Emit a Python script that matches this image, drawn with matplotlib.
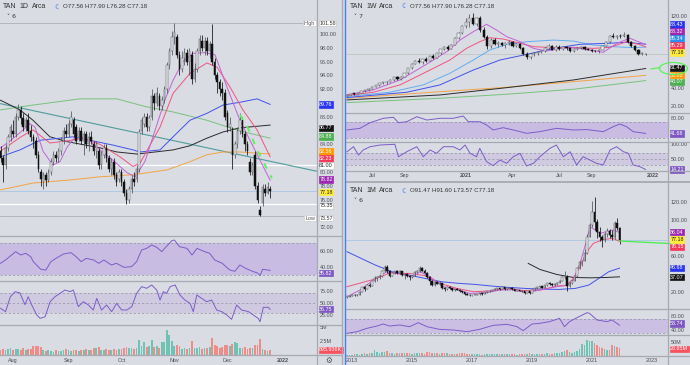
import matplotlib
matplotlib.use("Agg")
import matplotlib.pyplot as plt
from matplotlib.lines import Line2D
from matplotlib.patches import Ellipse
import numpy as np

# ---------------- DAILY (left) ----------------
d_open = [83.0, 82.0, 81.0, 83.5, 85.0, 86.0, 85.5, 88.0, 89.0, 87.8,
          86.5, 87.5, 86.0, 85.0, 84.5, 82.5, 80.0, 78.5, 79.5, 78.8,
          80.0, 81.5, 82.5, 82.0, 83.0, 84.5, 86.0, 85.5, 87.0, 87.5,
          86.5, 85.0, 86.0, 84.5, 85.5, 84.0, 85.0, 84.0, 83.0, 83.0,
          81.0, 82.5, 83.5, 82.0, 80.5, 81.5, 79.5, 79.0, 80.0, 78.5,
          77.0, 76.0, 77.5, 79.0, 79.0, 80.5, 86.0, 87.0, 88.0, 86.5,
          88.0, 91.0, 90.0, 91.0, 89.5, 90.5, 92.0, 95.5, 97.5, 99.5,
          99.5, 97.0, 95.0, 96.5, 97.3, 96.0, 97.0, 93.5, 95.0, 97.5,
          99.0, 98.0, 99.0, 97.5, 98.5, 96.0, 94.0, 93.0, 92.0, 91.5,
          88.5, 86.5, 86.0, 82.5, 84.0, 86.0, 87.5, 85.5, 84.0, 81.5,
          80.0, 82.5, 78.0, 74.5, 75.5, 77.5, 77.0, 77.56]
d_high = [83.8, 82.5, 84.0, 85.5, 87.0, 87.5, 88.5, 89.8, 89.5, 88.5,
          88.0, 88.5, 86.8, 85.5, 85.0, 83.0, 80.5, 80.0, 80.0, 80.5,
          82.0, 83.0, 83.0, 83.5, 85.0, 86.5, 87.0, 87.5, 88.8, 88.0,
          87.0, 86.5, 86.5, 86.0, 86.0, 85.8, 86.0, 84.5, 84.5, 83.5,
          83.0, 84.0, 84.0, 82.5, 82.0, 82.0, 80.0, 80.5, 80.5, 79.0,
          77.5, 78.0, 79.5, 80.0, 81.0, 86.2, 88.0, 88.5, 88.5, 88.3,
          92.0, 91.5, 92.3, 91.5, 91.0, 92.5, 96.0, 98.0, 100.5, 101.58,
          100.0, 97.5, 97.5, 98.0, 97.8, 98.0, 97.5, 95.8, 98.0, 99.8,
          99.8, 99.5, 99.5, 99.0, 101.4, 96.5, 94.5, 93.5, 93.0, 92.0,
          89.0, 88.0, 86.5, 84.5, 86.5, 88.5, 88.0, 86.0, 84.5, 82.0,
          81.5, 83.0, 78.5, 75.0, 78.2, 78.3, 78.5, 77.90]
d_low = [81.5, 78.5, 80.5, 83.0, 84.5, 85.0, 85.0, 87.5, 87.0, 86.0,
         86.0, 85.5, 84.5, 83.5, 82.0, 80.0, 78.0, 77.5, 78.0, 78.5,
         79.5, 81.0, 81.5, 81.5, 82.5, 84.0, 85.0, 85.0, 86.5, 85.0,
         84.0, 84.5, 84.0, 82.5, 83.5, 83.0, 84.0, 82.5, 82.0, 80.5,
         80.5, 82.0, 81.5, 80.0, 79.5, 79.0, 78.0, 78.5, 78.0, 76.5,
         75.3, 75.5, 77.0, 78.0, 78.5, 80.0, 85.5, 86.5, 86.0, 86.0,
         87.5, 89.0, 89.5, 89.0, 89.0, 90.0, 91.5, 95.0, 97.0, 98.5,
         96.5, 94.0, 94.5, 95.5, 95.5, 94.0, 92.8, 93.0, 94.5, 97.0,
         97.5, 97.0, 97.0, 96.5, 95.5, 93.5, 91.5, 91.0, 90.5, 87.5,
         85.8, 86.0, 80.5, 82.0, 83.5, 85.5, 85.0, 83.0, 82.5, 79.5,
         79.5, 77.5, 75.5, 73.57, 75.0, 76.5, 76.8, 76.28]
d_close = [82.0, 81.0, 83.5, 85.0, 86.5, 85.5, 88.0, 89.0, 87.8, 86.5,
           87.5, 86.0, 85.0, 84.5, 82.5, 80.5, 79.0, 79.5, 78.8, 79.8,
           81.5, 82.5, 82.0, 83.0, 84.5, 86.0, 85.5, 87.0, 88.0, 85.5,
           84.5, 86.0, 84.5, 85.5, 84.0, 85.0, 84.5, 83.0, 84.0, 81.0,
           82.5, 83.5, 82.0, 80.5, 81.5, 79.5, 78.5, 80.0, 78.5, 77.0,
           76.0, 77.5, 79.0, 78.5, 80.5, 85.8, 87.5, 88.0, 86.5, 87.8,
           91.0, 90.0, 91.5, 89.5, 90.5, 92.0, 95.5, 97.5, 99.5, 100.3,
           97.0, 95.0, 96.5, 97.3, 96.0, 97.5, 93.5, 95.0, 97.5, 99.3,
           98.0, 99.0, 97.5, 98.5, 96.0, 94.0, 93.0, 92.0, 91.5, 88.0,
           86.5, 87.0, 82.5, 84.0, 86.0, 87.5, 85.5, 84.0, 83.0, 80.0,
           81.0, 78.0, 76.0, 73.8, 77.8, 77.0, 77.8, 77.18]
d_vol = [0.9, 1.1, 0.8, 1.0, 1.2, 0.9, 1.0, 1.1, 0.8, 1.2,
         0.9, 1.0, 1.1, 1.5, 1.6, 1.5, 1.4, 0.8, 0.7, 0.8,
         0.7, 0.6, 0.8, 0.7, 0.7, 0.9, 1.0, 0.8, 0.7, 0.9,
         0.8, 0.7, 0.9, 0.8, 1.1, 0.8, 0.9, 1.3, 1.2, 1.4,
         0.9, 0.8, 1.0, 0.9, 0.8, 1.0, 0.9, 1.1, 1.0, 1.3,
         1.4, 1.2, 1.3, 1.0, 1.2, 2.7, 1.6, 2.3, 1.4, 1.5,
         2.6, 1.4, 1.6, 1.3, 2.2, 2.3, 4.4, 3.6, 2.5, 1.6,
         1.8, 1.5, 1.1, 1.3, 1.0, 1.2, 2.5, 1.2, 1.3, 1.4,
         1.1, 1.3, 1.2, 1.4, 3.0, 1.7, 1.5, 1.2, 1.4, 1.8,
         1.7, 1.6, 1.9, 2.2, 2.1, 1.3, 1.2, 1.4, 1.1, 1.3,
         1.2, 1.8, 1.7, 2.75, 1.0, 0.8, 0.7, 0.896]
d_tick_pos = [5, 27, 48, 69, 90, 112]
d_tick_lab = ["Aug", "Sep", "Oct", "Nov", "Dec", "2022"]

d_purple_x = [0, 3.8, 7.7, 11.7, 13.7, 16.9, 20.8, 23.6, 26.4, 30.4, 35.5, 39.5, 44.6, 50.2,
              53.4, 57.3, 61.3, 65.3, 68.5, 72.4, 76.4, 81.2, 85.1, 89.9, 95.0, 99.0, 103.0, 107.0]
d_purple = [83.5, 84.5, 85.7, 87.0, 86.5, 83.0, 81.0, 81.5, 83.6, 85.4, 84.5, 83.2, 81.7, 79.9,
            79.3, 81.5, 86.0, 90.5, 93.3, 96.0, 97.2, 97.3, 97.0, 92.3, 87.5, 84.6, 81.7, 78.8]
d_pink_x = [0, 7.7, 12.9, 19.6, 26.4, 32.7, 39.5, 47.4, 52.6, 55.4, 63.3, 68.5, 75.2, 81.9,
            85.9, 91.1, 96.2, 101.8, 107]
d_pink = [83.0, 85.0, 86.1, 84.2, 84.5, 84.9, 84.0, 82.2, 80.8, 81.3, 86.5, 91.4, 94.3, 95.8,
          95.2, 92.3, 89.0, 86.1, 82.2]
d_blue_x = [0, 7.7, 15.7, 28.8, 44.6, 52.6, 55.4, 63.3, 68.5, 75.2, 81.9, 88.3, 95.0, 101.8, 107]
d_blue = [82.2, 83.2, 84.6, 85.1, 83.9, 83.2, 82.9, 83.2, 85.1, 87.5, 88.5, 89.7, 90.1, 90.6, 89.8]
d_black_x = [0, 7.7, 12.9, 19.6, 26.4, 39.5, 46.2, 54.2, 68.5, 75.2, 81.9, 88.3, 95.0, 107]
d_black = [90.4, 89.0, 87.5, 85.1, 84.4, 83.5, 82.9, 82.6, 83.2, 83.8, 84.9, 85.8, 86.4, 86.8]
d_green_x = [0, 12.9, 31.5, 46.2, 57.3, 68.5, 81.9, 91.1, 99.0, 107]
d_green = [89.0, 89.7, 90.6, 90.6, 89.5, 88.7, 87.5, 86.4, 85.6, 84.9]
d_orange_x = [0, 12.9, 26.4, 39.5, 52.6, 66.1, 75.2, 81.9, 88.3, 95.0, 107]
d_orange = [77.4, 78.4, 78.8, 79.3, 79.6, 80.3, 81.5, 82.5, 82.9, 82.9, 82.6]
d_trend_x = [0, 125.6]
d_trend = [89.9, 80.1]
d_proj_x = [95.0, 99.0, 101.4, 107.7]
d_proj = [88.3, 85.8, 83.5, 79.1]

d_rsi_x = [0, 2, 6, 8, 10, 12, 13, 16, 18, 20, 22, 25, 28, 30, 32, 34, 37, 39, 41, 44,
           46, 49, 52, 54, 56, 58, 60, 62, 64, 66, 68, 69, 71, 74, 76, 78, 81, 83, 85, 88,
           91, 93, 95, 97, 100, 102, 103, 104, 107]
d_rsi = [44.6, 48.75, 59.2, 55, 57.1, 52.9, 46.7, 37.1, 36.25, 46.7, 50.8, 56.25, 57.9, 52.9,
         46.7, 50.8, 48.75, 44.6, 48.75, 42.5, 44.6, 39.6, 40.4, 46.7, 61.25, 63.3, 67.5, 64.6,
         59.2, 66.25, 72.9, 73.75, 65.4, 63.3, 55, 63.3, 59.2, 57.1, 48.75, 44.6, 36.25, 34.6,
         42.5, 38.75, 34.6, 32.5, 29.2, 37.1, 35.8]
d_sto_x = [0, 2.0, 3.9, 5.8, 7.7, 9.7, 11.0, 12.4, 14.4, 15.7, 17.7, 19.7, 21.6, 23.6, 25.6,
           27.6, 28.9, 30.9, 32.9, 34.9, 36.8, 38.2, 40.1, 42.1, 44.1, 46.1, 48.1, 50.1, 52.1,
           54.0, 56.0, 58.0, 60.0, 62.0, 63.3, 64.6, 65.9, 67.3, 69.3, 71.2, 73.2, 75.2, 76.5,
           77.9, 79.8, 81.8, 83.8, 85.8, 87.8, 89.8, 91.7, 93.7, 95.7, 98.4, 100.3, 102.3,
           103.0, 104.3, 106.3, 107.0]
d_sto = [39, 32, 63, 73.6, 71, 46.5, 63, 45.8, 25, 18, 21.5, 52.8, 63, 70, 77, 73.6, 77, 42.4,
         52.8, 45.8, 35.4, 59.7, 35.4, 45.8, 32, 49.3, 35.4, 35.4, 42.4, 70, 84, 80.6, 87.5, 77,
         56, 73.6, 70, 84, 87.5, 66.7, 56, 49.3, 32, 66.7, 59.7, 52.8, 56, 35.4, 32, 25, 16,
         45.8, 35.4, 32, 25, 18, 11, 41, 41, 36.75]

# ---------------- WEEKLY (top right) ----------------
w_open = [31.0, 32.5, 33.2, 33.0, 34.3, 36.2, 37.8, 39.0, 41.5, 43.0,
          45.0, 46.0, 47.0, 48.8, 52.0, 49.5, 52.5, 56.0, 62.0, 67.0,
          70.0, 69.0, 71.5, 70.0, 75.0, 73.5, 78.5, 83.0, 85.5, 83.5,
          88.0, 95.5, 100.5, 109.0, 113.0, 118.0, 111.0, 117.5, 104.0, 96.5,
          86.0, 93.5, 88.5, 90.0, 87.0, 89.5, 91.0, 86.5, 88.5, 84.0,
          78.0, 74.5, 77.5, 79.0, 79.8, 81.0, 84.5, 86.0, 82.5, 85.5,
          83.0, 85.0, 84.0, 80.5, 83.5, 84.5, 85.5, 83.0, 82.5, 81.0,
          80.5, 82.0, 86.5, 91.0, 97.5, 96.0, 98.0, 97.0, 99.0, 91.0,
          86.0, 82.0, 77.5, 77.56]
w_high = [32.8, 33.6, 34.4, 34.6, 36.5, 38.2, 39.5, 41.8, 43.5, 45.5,
          46.8, 47.5, 49.5, 52.5, 53.5, 53.0, 56.5, 62.5, 67.5, 71.0,
          73.0, 72.5, 74.5, 75.5, 78.0, 79.0, 83.5, 86.5, 87.5, 88.5,
          96.0, 101.5, 110.0, 117.5, 121.5, 123.5, 119.0, 120.0, 107.5, 98.5,
          95.0, 95.5, 91.5, 91.0, 90.5, 93.0, 92.5, 89.5, 90.0, 85.0,
          80.0, 78.5, 80.0, 80.5, 82.0, 85.5, 88.5, 88.0, 87.0, 87.5,
          86.0, 86.0, 85.5, 84.5, 85.0, 86.5, 86.0, 84.5, 83.5, 82.0,
          83.0, 87.0, 92.0, 98.5, 100.5, 99.0, 99.5, 101.5, 100.0, 92.5,
          87.5, 83.0, 79.5, 77.90]
w_low = [30.5, 32.0, 32.6, 32.8, 34.0, 35.8, 37.0, 38.5, 40.8, 42.5,
         44.5, 44.8, 46.5, 48.0, 49.0, 48.5, 52.0, 55.5, 61.5, 66.0,
         67.5, 67.0, 68.5, 69.5, 72.5, 73.0, 78.0, 81.5, 82.5, 83.0,
         87.5, 94.5, 99.5, 106.0, 107.0, 109.5, 109.0, 101.5, 95.5, 83.0,
         84.0, 87.0, 85.5, 86.0, 84.5, 87.5, 85.0, 85.5, 83.0, 77.0,
         72.0, 71.5, 75.5, 77.0, 78.5, 80.0, 83.5, 81.5, 81.0, 82.0,
         81.5, 82.5, 79.5, 80.0, 82.0, 83.0, 82.5, 81.5, 80.0, 79.5,
         79.0, 81.5, 86.0, 90.0, 95.0, 94.5, 95.0, 96.5, 89.5, 85.0,
         80.5, 76.5, 76.0, 76.28]
w_close = [32.5, 33.2, 33.0, 34.3, 36.2, 37.8, 39.0, 41.5, 43.0, 45.0,
           46.0, 47.0, 48.8, 52.0, 49.5, 52.5, 56.0, 62.0, 67.0, 70.0,
           69.0, 71.5, 70.0, 75.0, 73.5, 78.5, 83.0, 85.5, 83.5, 88.0,
           95.5, 100.5, 109.0, 113.0, 118.0, 111.0, 117.0, 104.0, 96.5, 86.0,
           93.5, 88.5, 90.0, 87.0, 89.5, 91.0, 86.5, 88.5, 84.0, 78.0,
           74.5, 77.5, 79.0, 79.8, 81.0, 84.5, 86.0, 82.5, 85.5, 83.0,
           85.0, 84.0, 80.5, 83.5, 84.5, 85.5, 83.0, 82.5, 81.0, 80.5,
           82.0, 86.5, 91.0, 97.5, 96.0, 98.0, 97.0, 99.0, 91.0, 86.0,
           82.0, 77.5, 78.5, 77.18]
w_tick_pos = [7, 16, 33, 46, 59, 68, 85]
w_tick_lab = ["Jul", "Sep", "2021", "Apr", "Jul", "Sep", "2022"]

w_purple_x = [0, 7.3, 14.7, 19.4, 24.0, 27.7, 31.4, 35.1, 38.8, 41.6, 44.4, 48.1, 51.8, 55.5,
              59.2, 62.9, 67.5, 71.2, 75.0, 78.6, 81.4, 83.0]
w_purple = [32.2, 37.8, 48.8, 59.8, 70.9, 80.1, 93.0, 102.3, 110.5, 104.0, 96.7, 91.2, 83.8,
            80.9, 83.8, 84.6, 82.0, 79.4, 89.4, 95.0, 90.5, 88.3]
w_pink_x = [0, 7.3, 14.7, 19.4, 24.0, 28.6, 33.2, 36.9, 39.7, 43.5, 48.1, 51.8, 57.4, 62.9,
            68.5, 73.1, 77.7, 81.4, 83.0]
w_pink = [31.5, 35.2, 43.3, 52.5, 61.7, 70.9, 83.8, 91.2, 95.6, 94.1, 89.4, 85.7, 84.6, 84.9,
          83.8, 84.9, 91.2, 88.0, 85.3]
w_lblue_x = [0, 11.9, 21.2, 28.6, 35.1, 39.7, 44.4, 50.0, 57.4, 62.9, 68.5, 74.0, 79.5, 83.0]
w_lblue = [30.4, 35.2, 43.3, 56.2, 70.9, 82.0, 88.3, 91.2, 93.0, 91.9, 87.5, 85.7, 84.6, 85.3]
w_blue_x = [0, 16.6, 25.8, 35.1, 42.5, 50.0, 57.4, 64.8, 72.2, 77.7, 83.0]
w_blue = [29.3, 35.2, 43.3, 59.8, 70.9, 77.2, 83.8, 88.3, 89.4, 90.5, 88.4]
w_long_x = [0, 25.8, 44.4, 62.9, 83.0]
w_black = [26.7, 32.2, 40.3, 48.8, 61.5]
w_orange = [28.5, 35.8, 40.7, 46.9, 53.9]
w_green = [23.7, 28.5, 33.0, 38.5, 48.1]

w_rsi_x = [0, 3.6, 6.4, 10.1, 12.9, 14.3, 16.6, 19.4, 22.2, 25.8, 29.5, 32.3, 33.7, 35.1, 37.0,
           38.8, 40.6, 43.4, 46.2, 49.9, 53.6, 58.2, 62.9, 66.6, 71.2, 74.0, 75.8, 77.7, 79.5, 83.0]
w_rsi = [50, 54, 67.6, 78.2, 80.6, 67.6, 70, 82, 74, 78.2, 78.2, 83.7, 70, 70, 70, 62, 50, 55.6,
         50, 42, 46, 54, 50, 51, 46, 58, 64.4, 58, 46, 41.7]
w_sto_x = [0, 1.8, 3.2, 4.5, 6.4, 9.2, 13.3, 14.3, 16.6, 19.4, 21.2, 23.1, 24.9, 26.8, 29.5,
           31.4, 32.8, 34.2, 36.0, 36.9, 38.8, 40.6, 42.5, 44.4, 46.2, 48.1, 49.9, 51.8, 53.6,
           56.4, 58.2, 60.1, 62.0, 63.8, 65.6, 67.5, 69.3, 71.2, 73.1, 74.9, 76.8, 78.2, 79.5,
           81.4, 83.0]
w_sto = [74.8, 91.8, 63.6, 80.6, 91.8, 97.6, 100, 57.8, 74.8, 91.8, 57.8, 80.6, 69.3, 91.8,
         91.8, 80.6, 97.6, 69.3, 57.8, 86.3, 40.8, 27.3, 46.6, 35.4, 57.8, 69.3, 26.2, 35.4,
         57.8, 86.3, 97.6, 57.8, 74.8, 29.6, 57.8, 46.6, 35.4, 29.6, 80.6, 91.8, 74.8, 69.3,
         29.6, 24.0, 14.2]

# ---------------- MONTHLY (bottom right) ----------------
m_open = [14.5, 15.0, 16.0, 17.2, 16.5, 17.5, 20.5, 25.5, 24.0, 28.5,
          27.0, 32.0, 35.5, 37.0, 38.5, 43.0, 48.0, 43.0, 38.5, 41.0,
          43.5, 41.0, 43.0, 39.0, 40.0, 38.0, 37.0, 38.0, 42.5, 43.0,
          46.5, 44.0, 41.5, 37.0, 32.0, 28.5, 31.5, 29.5, 30.0, 24.5,
          23.5, 26.0, 24.5, 22.5, 23.5, 23.0, 21.0, 20.0, 18.0, 17.5,
          16.5, 17.0, 17.5, 18.0, 18.5, 18.0, 20.0, 21.0, 22.0, 23.0,
          23.5, 24.5, 24.0, 25.5, 23.5, 24.0, 25.0, 23.5, 21.5, 22.5,
          21.5, 21.0, 19.5, 21.0, 19.5, 23.0, 24.5, 25.5, 27.0, 25.0,
          28.0, 30.0, 29.0, 28.0, 29.5, 30.5, 33.0, 36.5, 37.0, 26.5,
          30.0, 33.0, 37.5, 46.5, 53.5, 54.5, 63.0, 81.5, 94.5, 109.0,
          98.0, 87.0, 81.0, 77.5, 84.5, 88.0, 83.5, 80.5, 97.0, 91.47]
m_high = [15.5, 16.5, 18.0, 18.0, 17.8, 21.0, 26.0, 26.5, 29.0, 30.0,
          32.5, 38.0, 38.0, 39.5, 45.0, 50.5, 50.0, 44.5, 42.0, 44.0,
          44.5, 45.0, 44.0, 41.0, 41.5, 39.5, 39.0, 43.0, 44.5, 48.5,
          47.5, 45.5, 42.0, 38.0, 33.5, 33.0, 33.0, 32.0, 30.5, 25.5,
          27.0, 27.0, 25.0, 24.0, 25.0, 23.5, 22.0, 20.5, 19.0, 18.0,
          17.5, 18.0, 18.5, 19.0, 19.0, 20.5, 21.5, 22.5, 23.5, 24.5,
          25.0, 25.0, 26.5, 26.0, 25.0, 25.5, 26.0, 24.0, 23.0, 23.0,
          22.0, 21.5, 21.5, 21.5, 23.5, 25.0, 26.0, 27.5, 27.5, 28.5,
          30.5, 31.0, 30.5, 30.0, 31.0, 33.5, 38.5, 43.0, 39.0, 31.0,
          33.5, 38.5, 47.5, 54.5, 56.0, 68.0, 84.0, 96.0, 121.0, 125.0,
          101.0, 92.0, 83.0, 86.0, 91.0, 90.0, 89.0, 98.5, 101.5, 91.60]
m_low = [14.0, 14.8, 15.8, 16.0, 16.2, 16.8, 20.0, 21.5, 23.8, 26.0,
         26.8, 31.5, 33.0, 34.5, 37.0, 42.0, 41.0, 37.0, 37.5, 40.5,
         40.0, 40.0, 38.5, 34.5, 37.0, 34.0, 35.5, 37.5, 41.0, 42.5,
         43.5, 41.0, 36.0, 28.5, 27.5, 27.0, 29.0, 28.5, 23.5, 21.0,
         23.0, 24.0, 22.0, 21.0, 22.5, 20.5, 19.5, 17.5, 16.5, 16.0,
         16.0, 16.5, 17.0, 17.5, 17.5, 17.8, 19.5, 20.5, 21.5, 22.5,
         23.0, 23.0, 23.5, 22.5, 22.5, 23.5, 23.0, 21.0, 21.0, 21.0,
         20.5, 18.5, 19.0, 18.5, 19.0, 22.5, 24.0, 25.0, 24.5, 24.5,
         27.5, 28.0, 27.5, 27.0, 28.5, 30.0, 32.5, 34.5, 21.5, 25.5,
         29.0, 32.0, 37.0, 46.0, 48.5, 54.0, 62.0, 81.0, 92.0, 89.0,
         80.0, 77.0, 69.5, 76.0, 80.5, 79.5, 78.0, 79.0, 88.5, 73.57]
m_close = [15.0, 16.0, 17.2, 16.5, 17.5, 20.5, 25.5, 24.0, 28.5, 27.0,
           32.0, 35.5, 37.0, 38.5, 43.0, 48.0, 43.0, 38.5, 41.0, 43.5,
           41.0, 43.0, 39.0, 40.0, 38.0, 37.0, 38.0, 42.5, 43.0, 46.5,
           44.0, 41.5, 37.0, 32.0, 28.5, 31.5, 29.5, 30.0, 24.5, 23.5,
           26.0, 24.5, 22.5, 23.5, 23.0, 21.0, 20.0, 18.0, 17.5, 16.5,
           17.0, 17.5, 18.0, 18.5, 18.0, 20.0, 21.0, 22.0, 23.0, 23.5,
           24.5, 24.0, 25.5, 23.5, 24.0, 25.0, 23.5, 21.5, 22.5, 21.5,
           21.0, 19.5, 21.0, 19.5, 23.0, 24.5, 25.5, 27.0, 25.0, 28.0,
           30.0, 29.0, 28.0, 29.5, 30.5, 33.0, 36.5, 37.0, 26.5, 30.0,
           33.0, 37.5, 46.5, 53.5, 54.5, 63.0, 81.5, 94.5, 109.0, 98.0,
           87.0, 81.0, 77.5, 84.5, 88.0, 83.5, 80.5, 97.0, 91.5, 77.18]
m_vol = [4, 4, 5, 6, 7, 5, 8, 9, 6, 10, 12, 20,
         14, 12, 15, 13, 16, 10, 9, 8, 9, 10, 11, 12,
         9, 10, 8, 9, 10, 12, 9, 8, 14, 15, 12, 10,
         9, 8, 10, 11, 9, 8, 7, 8, 7, 9, 10, 9,
         8, 7, 6, 7, 6, 6, 5, 6, 6, 7, 6, 6,
         6, 6, 7, 8, 6, 6, 7, 6, 5, 6, 6, 7,
         8, 9, 8, 7, 7, 6, 7, 8, 9, 8, 8, 10,
         10, 12, 15, 16, 22, 14, 12, 14, 18, 24, 40, 38,
         55, 52, 52, 45, 38, 33, 28, 25, 22, 20, 38, 35,
         33, 28.65]
m_tick_pos = [0, 24, 48, 72, 96, 120]
m_tick_lab = ["2013", "2015", "2017", "2019", "2021", "2023"]

m_purple_x = [-2, 3.2, 8.5, 13.9, 19.2, 24.5, 27.2, 31.2, 36.5, 41.9, 47.2, 53.9, 59.2, 64.5,
              69.9, 75.2, 81.9, 85.9, 88.5, 91.2, 93.9, 95.2, 97.2, 99.2, 101.9, 104.5, 107]
m_purple = [15.1, 22.5, 33.5, 42.7, 40.1, 37.2, 42.7, 37.2, 26.2, 23.2, 18.8, 19.6, 22.5, 22.8,
            19.6, 22.5, 26.2, 27.5, 33.5, 51.9, 77.7, 92.4, 88.8, 85.1, 87.0, 88.8, 86.0]
m_pink_x = [-2, 9.3, 14.7, 22.7, 29.3, 35.2, 41.9, 48.5, 55.2, 61.9, 68.5, 75.2, 81.9, 85.9,
            88.5, 91.2, 93.9, 96.5, 100.5, 104.3, 107]
m_pink = [26.2, 34.7, 40.9, 40.9, 38.4, 29.9, 24.4, 20.7, 21.5, 24.4, 22.0, 22.5, 26.9, 28.0,
          35.2, 48.0, 64.6, 73.9, 78.3, 79.4, 76.2]
m_blue_x = [-2, 9.3, 16, 22.7, 29.3, 36, 42.7, 49.3, 56, 62.7, 69.3, 76, 82.7, 89.3, 94.7,
            98.7, 102.7, 107]
m_blue = [64.8, 50.1, 42.7, 39.0, 35.3, 31.6, 29.9, 28.7, 26.9, 25.4, 24.3, 23.5, 23.2, 24.3,
          28.0, 35.3, 42.7, 46.7]
m_black_x = [70.5, 75.2, 81.9, 88.5, 95.2, 101.9, 107]
m_black = [51.9, 45.2, 39.7, 36.4, 36.0, 36.4, 37.1]
m_rsi_x = [-2, 2, 6, 10, 12.5, 15, 19, 23, 26.5, 30, 35, 40.5, 46, 51, 56.5, 62, 66, 68.5, 72,
           75, 79, 83, 85, 87, 90, 94, 95, 98, 102, 104, 107]
m_rsi = [30.5, 35.2, 44.8, 51.4, 57.1, 51.4, 54.3, 49.5, 60.9, 49.5, 41.9, 40.0, 35.2, 41.9,
         53.3, 56.2, 49.5, 38.1, 57.1, 59.0, 63.8, 73.3, 49.5, 63.8, 75.2, 89.5, 87.6, 68.6,
         63.8, 68.6, 53.7]
m_line_x = [107, 131]
m_line = [76.6, 73.3]

# ---------------- drawing ----------------
W, H = 690, 365
BG = "#d9dce3"
SEP = "#a7aab2"
TXT = "#4a4d55"
FS = 3.9
plt.rcParams["font.family"] = ["Liberation Sans", "DejaVu Sans"]

fig = plt.figure(figsize=(6.9, 3.65), dpi=100, facecolor=BG)


def ax_px(x0, y0, x1, y1):
    ax = fig.add_axes([x0 / W, 1 - y1 / H, (x1 - x0) / W, (y1 - y0) / H])
    ax.set_facecolor(BG)
    for s in ax.spines.values():
        s.set_visible(False)
    ax.tick_params(axis="both", length=0, labelsize=FS, colors=TXT, pad=2)
    ax.yaxis.tick_right()
    ax.set_xticks([])
    return ax


def hl(x0, x1, y, color=SEP, lw=0.9):
    fig.add_artist(Line2D([x0 / W, x1 / W], [1 - y / H, 1 - y / H], color=color, lw=lw,
                          transform=fig.transFigure))


def vl(x, y0, y1, color=SEP, lw=0.9):
    fig.add_artist(Line2D([x / W, x / W], [1 - y0 / H, 1 - y1 / H], color=color, lw=lw,
                          transform=fig.transFigure))


def candles(ax, o, h, l, c, start, w, minh):
    o, h, l, c = map(np.asarray, (o, h, l, c))
    x = np.arange(len(o)) + start
    up = c >= o
    ax.vlines(x, l, h, colors=np.where(up, "#50545c", "#101010"), lw=0.55, zorder=3)
    ax.bar(x, np.maximum(np.abs(c - o), minh), w, np.minimum(o, c),
           color=np.where(up, "#f0f0f0", "#101010"),
           edgecolor=np.where(up, "#50545c", "#101010"), lw=0.35, zorder=4)


def tag(ax, y, text, fc, tc="white", ec=None):
    ax.annotate(text, xy=(1, y), xycoords=("axes fraction", "data"), xytext=(1.6, 0),
                textcoords="offset points", ha="left", va="center", fontsize=FS, color=tc,
                bbox=dict(boxstyle="square,pad=0.12", fc=fc, ec=ec or fc, lw=0.5),
                annotation_clip=False, zorder=20)


def side(ax, y, text):
    ax.annotate(text, xy=(1, y), xycoords=("axes fraction", "data"), xytext=(-1.5, 0),
                textcoords="offset points", ha="right", va="center", fontsize=FS, color="#555",
                bbox=dict(boxstyle="square,pad=0.12", fc="white", ec="#c8c8c8", lw=0.4),
                annotation_clip=False, zorder=20)


def band(ax, lo, hi, fc, mid=None):
    ax.axhspan(lo, hi, color=fc, lw=0, zorder=0)
    for v in [lo, hi] + ([mid] if mid is not None else []):
        ax.axhline(v, color="#8f8fa0", lw=0.5, ls=(0, (3, 3)), zorder=1)


def fmt(ax, ticks, labels=None):
    ax.set_yticks(ticks)
    ax.set_yticklabels(labels if labels else ["%.2f" % t for t in ticks])


C_PURPLE, C_PINK, C_BLUE = "#c262d6", "#ef557f", "#4152ea"
C_BLACK, C_GREEN, C_ORANGE = "#2b2b2b", "#78c27a", "#f3a444"
C_LBLUE, C_RSI = "#62aef0", "#7d5cc8"
UPV, DNV = "#6ec3b4", "#ef8c87"

# ---- left daily ----
dx = np.arange(len(d_open))
XL = (-0.2, 125.6)
aL = ax_px(0, 0, 317, 236)
aL.set_xlim(*XL)
aL.set_ylim(70.72, 104.93)
aL.axhline(101.58, color="#a2a6ae", lw=0.5)
aL.axhline(81.0, color="white", lw=0.9)
aL.axhline(77.18, color="#a9c6e6", lw=0.6)
aL.axhline(75.35, color="white", lw=0.9)
aL.axhline(73.57, color="#a2a6ae", lw=0.5)
aL.plot(d_trend_x, d_trend, color="#4e9c9c", lw=0.8)
aL.plot(d_green_x, d_green, color=C_GREEN, lw=0.7)
aL.plot(d_orange_x, d_orange, color=C_ORANGE, lw=0.7)
aL.plot(d_black_x, d_black, color=C_BLACK, lw=0.7)
aL.plot(d_blue_x, d_blue, color=C_BLUE, lw=0.7)
aL.plot(d_pink_x, d_pink, color=C_PINK, lw=0.7)
aL.plot(d_purple_x, d_purple, color=C_PURPLE, lw=0.7)
aL.plot(d_proj_x, d_proj, color="#5cf25c", lw=1.4, ls=(0, (3, 4)), zorder=6)
candles(aL, d_open, d_high, d_low, d_close, 0, 0.6, 0.12)
fmt(aL, [72, 76, 78, 80, 84, 88, 92, 94, 96, 98, 100])
tag(aL, 101.58, "101.58", "white", "#333", "#c8c8c8"); side(aL, 101.58, "High")
tag(aL, 89.8, "89.76", "#2a35f0")
tag(aL, 86.4, "86.77", "#151515")
tag(aL, 85.15, "84.88", "#4caf50")
tag(aL, 82.95, "82.56", "#ff9800")
tag(aL, 81.95, "82.23", "#f23a5a")
tag(aL, 80.95, "81.00", "white", "#222", "#c8c8c8")
tag(aL, 78.92, "78.82", "#9c27b0")
tag(aL, 77.08, "77.18", "#ffeb3b", "#222")
tag(aL, 75.1, "75.35", "white", "#222", "#c8c8c8")
tag(aL, 73.3, "73.57", "white", "#333", "#c8c8c8"); side(aL, 73.3, "Low")

aR = ax_px(0, 236, 317, 281)
aR.set_xlim(*XL); aR.set_ylim(22.5, 78.75)
band(aR, 30, 70, "#c8bce2")
aR.plot(d_rsi_x, d_rsi, color=C_RSI, lw=0.7)
fmt(aR, [40, 60]); tag(aR, 32.25, "35.82", "#7e57c2")

aS = ax_px(0, 281, 317, 325)
aS.set_xlim(*XL); aS.set_ylim(4.2, 95.8)
band(aS, 30, 70, "#cfcae0", 50)
aS.plot(d_sto_x, d_sto, color=C_RSI, lw=0.7)
fmt(aS, [25, 50, 75]); tag(aS, 37.4, "36.75", "#7e57c2")

aV = ax_px(0, 325, 317, 355)
aV.set_xlim(*XL); aV.set_ylim(0, 5.27)
aV.bar(dx, d_vol, 0.7, color=np.where(np.array(d_close) >= np.array(d_open), UPV, DNV))
fmt(aV, [2.5, 5], ["2.5M", "5M"]); tag(aV, 0.9, "895.936K", "#f7525f")
aV.set_xticks(d_tick_pos); aV.set_xticklabels(d_tick_lab)
aV.tick_params(axis="x", pad=2)
aV.get_xticklabels()[-1].set_fontweight("bold")

# ---- right top weekly ----
XW = (-0.28, 89.2)
bM = ax_px(346, 0, 668, 113)
bM.set_xlim(*XW); bM.set_ylim(12.2, 137.4)
bM.axhline(77.18, color="#b9c4bd", lw=0.5)
bM.plot(w_long_x, w_green, color=C_GREEN, lw=0.7)
bM.plot(w_long_x, w_orange, color=C_ORANGE, lw=0.7)
bM.plot(w_long_x, w_black, color=C_BLACK, lw=0.7)
bM.plot(w_lblue_x, w_lblue, color=C_LBLUE, lw=0.7)
bM.plot(w_blue_x, w_blue, color=C_BLUE, lw=0.7)
bM.plot(w_pink_x, w_pink, color=C_PINK, lw=0.7)
bM.plot(w_purple_x, w_purple, color=C_PURPLE, lw=0.7)
candles(bM, w_open, w_high, w_low, w_close, 0, 0.62, 0.9)
fmt(bM, [20, 40, 120])
tag(bM, 110.25, "88.43", "#2a35f0")
tag(bM, 102.5, "88.32", "#9c27b0")
tag(bM, 94.75, "85.34", "#2d8ff0")
tag(bM, 87.0, "85.29", "#f23a5a")
tag(bM, 79.25, "77.18", "#ffeb3b", "#222")
tag(bM, 62.1, "61.47", "#151515")
tag(bM, 54.3, "53.85", "#ff9800")
tag(bM, 46.6, "48.07", "#4caf50")

bR = ax_px(346, 113, 668, 142)
bR.set_xlim(*XW); bR.set_ylim(21, 91)
band(bR, 30, 70, "#c8bce2")
bR.plot(w_rsi_x, w_rsi, color=C_RSI, lw=0.7)
fmt(bR, [80]); tag(bR, 41.68, "41.68", "#7e57c2")

bS = ax_px(346, 142, 668, 171)
bS.set_xlim(*XW); bS.set_ylim(9.2, 107.8)
band(bS, 30, 70, "#cfcae0", 50)
bS.plot(w_sto_x, w_sto, color=C_RSI, lw=0.7)
fmt(bS, [50, 100]); tag(bS, 14.21, "14.21", "#7e57c2")
bS.set_xticks(w_tick_pos); bS.set_xticklabels(w_tick_lab)
bS.tick_params(axis="x", pad=1.2)
for t in bS.get_xticklabels():
    if t.get_text() in ("2021", "2022"):
        t.set_fontweight("bold")

# ---- right bottom monthly ----
XM = (-2.4, 126.4)
mx = np.arange(len(m_open)) - 2
cM = ax_px(346, 182, 668, 309)
cM.set_xlim(*XM); cM.set_ylim(1.6, 141.7)
cM.axhline(77.18, color="#a9c6e6", lw=0.6)
cM.plot(m_blue_x, m_blue, color=C_BLUE, lw=0.7)
cM.plot(m_black_x, m_black, color=C_BLACK, lw=0.7)
cM.plot(m_pink_x, m_pink, color=C_PINK, lw=0.7)
cM.plot(m_purple_x, m_purple, color=C_PURPLE, lw=0.7)
candles(cM, m_open, m_high, m_low, m_close, -2, 0.62, 0.9)
cM.plot(m_line_x, m_line, color="#46f046", lw=0.9, clip_on=False, zorder=15)
fmt(cM, [20, 60, 100, 120])
tag(cM, 86.2, "86.04", "#9c27b0")
tag(cM, 78.2, "77.18", "#ffeb3b", "#222")
tag(cM, 70.1, "76.15", "#f23a5a")
tag(cM, 47.2, "46.68", "#2a35f0")
tag(cM, 36.6, "37.07", "#151515")

cR = ax_px(346, 309, 668, 335)
cR.set_xlim(*XM); cR.set_ylim(25.7, 100)
band(cR, 30, 70, "#cbc0e3")
cR.plot(m_rsi_x, m_rsi, color=C_RSI, lw=0.7)
fmt(cR, [40, 80]); tag(cR, 58.6, "53.74", "#7e57c2")

cV = ax_px(346, 335, 668, 356)
cV.set_xlim(*XM); cV.set_ylim(0, 73)
cV.bar(mx, m_vol, 0.7, color=np.where(np.array(m_close) >= np.array(m_open), UPV, DNV))
fmt(cV, [50], ["50M"]); tag(cV, 25.5, "28.65M", "#f7525f")
cV.set_xticks(m_tick_pos); cV.set_xticklabels(m_tick_lab)
cV.tick_params(axis="x", pad=1.2)

# ---- separators ----
for y in (236, 281, 325, 355):
    hl(0, 341, y)
for y in (113, 142, 171, 309, 335, 356):
    hl(346, 690, y)
hl(346, 690, 181.5, SEP, 1.3)
vl(317, 0, 365)
vl(668, 0, 365)
vl(341.5, 0, 365, SEP, 1.0)
vl(344.5, 0, 365, "#4a7cf3", 1.0)

# green hand-drawn marks on weekly
fig.add_artist(Ellipse((673.5 / W, 1 - 68.5 / H), 28 / W, 12 / H, fill=False, ec="#5cf25c",
                       lw=0.9, transform=fig.transFigure))
fig.add_artist(Line2D([651 / W, 660 / W], [1 - 69 / H, 1 - 67.5 / H], color="#5cf25c", lw=0.9,
                      transform=fig.transFigure))

# ---- headers ----
def header(x, y, tf, ohlc, n):
    fig.text(x / W, 1 - y / H, "TAN", fontsize=5, color="#333", va="center")
    fig.text((x + 16) / W, 1 - y / H, tf, fontsize=5, color="#333", va="center")
    fig.text((x + 29) / W, 1 - y / H, "Arca", fontsize=5, color="#333", va="center")
    fig.text((x + 51) / W, 1 - y / H, "\u263E", fontsize=5, color="#2962ff", va="center",
             family="DejaVu Sans", fontweight="bold")
    fig.text((x + 60) / W, 1 - y / H, ohlc, fontsize=4.4, color="#333", va="center")
    fig.text((x + 4) / W, 1 - (y + 10) / H, "\u02C5 " + n, fontsize=4.4, color="#333",
             va="center", family="DejaVu Sans")


header(3, 7, "1D", "O77.56 H77.90 L76.28 C77.18", "6")
header(350, 6, "1W", "O77.56 H77.90 L76.28 C77.18", "7")
header(350, 191, "1M", "O91.47 H91.60 L73.57 C77.18", "6")
fig.text(329 / W, 1 - 360 / H, "\u2699", fontsize=5.5, color="#555", va="center", ha="center",
         family="DejaVu Sans")

fig.savefig("out.png", dpi=100, facecolor=BG)
